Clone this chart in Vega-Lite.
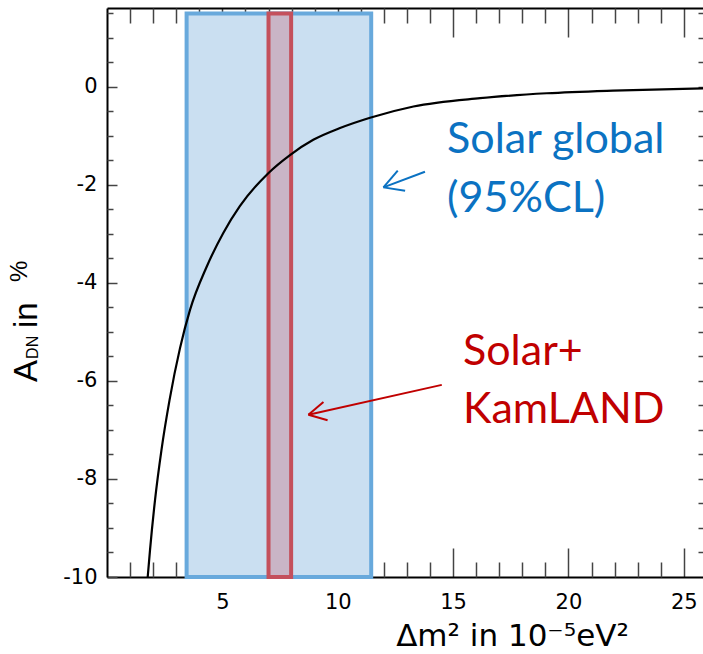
{
  "$schema": "https://vega.github.io/schema/vega-lite/v6.json",
  "width": 596,
  "height": 569,
  "autosize": {"type": "none"},
  "padding": {"left": 107, "top": 8, "right": 0, "bottom": 77},
  "background": "white",
  "config": {
    "view": {"stroke": null},
    "axis": {
      "grid": false,
      "labelFont": "DejaVu Sans",
      "labelFontSize": 21,
      "labelColor": "black",
      "tickColor": "#444444",
      "tickWidth": 1.5,
      "domainColor": "black",
      "domainWidth": 2,
      "zindex": 1,
      "labelOverlap": false,
      "labelFlush": false,
      "labelBound": false
    }
  },
  "datasets": {
    "boxes": [
      {"name": "Solar global", "lo": 3.45, "hi": 11.45, "bottom": -10, "top": 1.5},
      {"name": "Solar+KamLAND", "lo": 7.0, "hi": 7.98, "bottom": -10, "top": 1.5}
    ],
    "curve": [
      {"dm2": 1.764, "adn": -10.0},
      {"dm2": 1.864, "adn": -9.45},
      {"dm2": 2.081, "adn": -8.43},
      {"dm2": 2.36, "adn": -7.41},
      {"dm2": 2.71, "adn": -6.39},
      {"dm2": 3.164, "adn": -5.33},
      {"dm2": 3.598, "adn": -4.55},
      {"dm2": 4.32, "adn": -3.67},
      {"dm2": 5.04, "adn": -2.98},
      {"dm2": 5.765, "adn": -2.43},
      {"dm2": 6.99, "adn": -1.76},
      {"dm2": 7.93, "adn": -1.39},
      {"dm2": 8.94, "adn": -1.08},
      {"dm2": 10.1, "adn": -0.84},
      {"dm2": 11.4, "adn": -0.63},
      {"dm2": 13.28, "adn": -0.40},
      {"dm2": 16.17, "adn": -0.23},
      {"dm2": 19.06, "adn": -0.13},
      {"dm2": 21.93, "adn": -0.075},
      {"dm2": 25.83, "adn": -0.03}
    ],
    "arrows": [
      {"group": "solar", "xa": 13.78, "ya": -1.73, "xb": 11.98, "yb": -2.05},
      {"group": "solar", "xa": 11.98, "ya": -2.05, "xb": 12.6, "yb": -1.71},
      {"group": "solar", "xa": 11.98, "ya": -2.05, "xb": 12.92, "yb": -2.12},
      {"group": "kamland", "xa": 14.51, "ya": -6.08, "xb": 8.73, "yb": -6.69},
      {"group": "kamland", "xa": 8.73, "ya": -6.69, "xb": 9.38, "yb": -6.43},
      {"group": "kamland", "xa": 8.73, "ya": -6.69, "xb": 9.56, "yb": -6.80}
    ],
    "notes": [
      {"label": "Solar global", "group": "solar", "x": 14.74, "y": -1.35},
      {"label": "(95%CL)", "group": "solar", "x": 14.74, "y": -2.55},
      {"label": "Solar+", "group": "kamland", "x": 15.43, "y": -5.67},
      {"label": "KamLAND", "group": "kamland", "x": 15.43, "y": -6.86}
    ],
    "ytitle_big": [
      {"t": "A", "x": -3.03, "y": -6.02},
      {"t": "in", "x": -3.03, "y": -4.92}
    ],
    "ytitle_dn": [
      {"t": "DN", "x": -2.98, "y": -5.55}
    ],
    "ytitle_pct": [
      {"t": "%", "x": -3.47, "y": -3.98}
    ]
  },
  "resolve": {"axis": {"x": "independent", "y": "independent"}},
  "layer": [
    {
      "data": {"name": "boxes"},
      "transform": [{"filter": "datum.name === 'Solar global'"}],
      "mark": {"type": "rect", "fill": "#cadff1", "stroke": "#68a9dc", "strokeWidth": 4},
      "encoding": {
        "x": {"field": "lo", "type": "quantitative",
          "scale": {"domain": [0, 25.83], "nice": false, "zero": false},
          "axis": {"orient": "bottom", "values": [5, 10, 15, 20, 25], "tickSize": -29, "labelPadding": 43,
            "labelFont": "DejaVu Sans", "labelFontSize": 21,
            "labelExpr": "datum.value + ''",
            "title": "Δm² in 10⁻⁵eV²", "titleFont": "DejaVu Sans", "titleFontSize": 31, "titleFontWeight": "normal",
            "titleColor": "black", "titleX": 405, "titleY": 68, "titleAlign": "center", "titleBaseline": "alphabetic"}},
        "x2": {"field": "hi"},
        "y": {"field": "bottom", "type": "quantitative",
          "scale": {"domain": [-10, 1.61], "nice": false, "zero": false},
          "axis": {"orient": "left", "values": [-10, -8, -6, -4, -2, 0], "tickSize": -10, "labelPadding": 20,
            "labelFont": "DejaVu Sans", "labelFontSize": 21,
            "labelExpr": "datum.value + ''", "title": null}},
        "y2": {"field": "top"}
      }
    },
    {
      "data": {"name": "boxes"},
      "transform": [{"filter": "datum.name === 'Solar+KamLAND'"}],
      "mark": {"type": "rect", "fill": "#c9b5c6", "stroke": "#c4505c", "strokeWidth": 4},
      "encoding": {
        "x": {"field": "lo", "type": "quantitative",
          "scale": {"domain": [0, 25.83], "nice": false, "zero": false},
          "axis": {"orient": "bottom", "values": [1, 2, 3, 4, 6, 7, 8, 9, 11, 12, 13, 14, 16, 17, 18, 19, 21, 22, 23, 24],
            "tickSize": -15, "labels": false, "domain": false, "title": null}},
        "x2": {"field": "hi"},
        "y": {"field": "bottom", "type": "quantitative",
          "scale": {"domain": [-10, 1.61], "nice": false, "zero": false},
          "axis": {"orient": "left", "values": [-9.5, -9, -8.5, -7.5, -7, -6.5, -5.5, -5, -4.5, -3.5, -3, -2.5, -1.5, -1, -0.5, 0.5, 1, 1.5],
            "tickSize": -6, "labels": false, "domain": false, "title": null}},
        "y2": {"field": "top"}
      }
    },
    {
      "mark": {"type": "rule", "color": "black", "strokeWidth": 2, "strokeDash": [4, 4]},
      "encoding": {
        "y": {"datum": 0, "type": "quantitative",
          "scale": {"domain": [-10, 1.61], "nice": false, "zero": false}, "axis": null}
      }
    },
    {
      "data": {"name": "curve"},
      "mark": {"type": "line", "color": "black", "strokeWidth": 2.2, "interpolate": "monotone"},
      "encoding": {
        "x": {"field": "dm2", "type": "quantitative",
          "scale": {"domain": [0, 25.83], "nice": false, "zero": false},
          "axis": {"orient": "top", "values": [5, 10, 15, 20, 25], "tickSize": -29, "labels": false, "title": null}},
        "y": {"field": "adn", "type": "quantitative",
          "scale": {"domain": [-10, 1.61], "nice": false, "zero": false},
          "axis": {"orient": "right", "values": [-9.5, -9, -8.5, -8, -7.5, -7, -6.5, -6, -5.5, -5, -4.5, -4, -3.5, -3, -2.5, -2, -1.5, -1, -0.5, 0, 0.5, 1, 1.5],
            "tickSize": -5, "labels": false, "domain": false, "title": null}}
      }
    },
    {
      "data": {"name": "arrows"},
      "mark": {"type": "rule", "strokeWidth": 2},
      "encoding": {
        "x": {"field": "xa", "type": "quantitative",
          "scale": {"domain": [0, 25.83], "nice": false, "zero": false},
          "axis": {"orient": "top", "values": [1, 2, 3, 4, 6, 7, 8, 9, 11, 12, 13, 14, 16, 17, 18, 19, 21, 22, 23, 24],
            "tickSize": -15, "labels": false, "domain": false, "title": null}},
        "x2": {"field": "xb"},
        "y": {"field": "ya", "type": "quantitative",
          "scale": {"domain": [-10, 1.61], "nice": false, "zero": false}, "axis": null},
        "y2": {"field": "yb"},
        "color": {"field": "group", "type": "nominal",
          "scale": {"domain": ["solar", "kamland"], "range": ["#0b72c2", "#c00000"]}, "legend": null}
      }
    },
    {
      "data": {"name": "notes"},
      "mark": {"type": "text", "font": "Lato", "fontSize": 43, "align": "left", "baseline": "alphabetic"},
      "encoding": {
        "x": {"field": "x", "type": "quantitative",
          "scale": {"domain": [0, 25.83], "nice": false, "zero": false}, "axis": null},
        "y": {"field": "y", "type": "quantitative",
          "scale": {"domain": [-10, 1.61], "nice": false, "zero": false}, "axis": null},
        "text": {"field": "label"},
        "color": {"field": "group", "type": "nominal",
          "scale": {"domain": ["solar", "kamland"], "range": ["#0b72c2", "#c00000"]}, "legend": null}
      }
    },
    {
      "data": {"name": "ytitle_big"},
      "mark": {"type": "text", "font": "Liberation Sans", "fontSize": 33, "angle": 270, "align": "left", "baseline": "alphabetic", "color": "black"},
      "encoding": {
        "x": {"field": "x", "type": "quantitative",
          "scale": {"domain": [0, 25.83], "nice": false, "zero": false}, "axis": null},
        "y": {"field": "y", "type": "quantitative",
          "scale": {"domain": [-10, 1.61], "nice": false, "zero": false}, "axis": null},
        "text": {"field": "t"}
      }
    },
    {
      "data": {"name": "ytitle_dn"},
      "mark": {"type": "text", "font": "Liberation Sans", "fontSize": 16, "angle": 270, "align": "left", "baseline": "alphabetic", "color": "black"},
      "encoding": {
        "x": {"field": "x", "type": "quantitative",
          "scale": {"domain": [0, 25.83], "nice": false, "zero": false}, "axis": null},
        "y": {"field": "y", "type": "quantitative",
          "scale": {"domain": [-10, 1.61], "nice": false, "zero": false}, "axis": null},
        "text": {"field": "t"}
      }
    },
    {
      "data": {"name": "ytitle_pct"},
      "mark": {"type": "text", "font": "Liberation Sans", "fontSize": 24, "angle": 270, "align": "left", "baseline": "alphabetic", "color": "black"},
      "encoding": {
        "x": {"field": "x", "type": "quantitative",
          "scale": {"domain": [0, 25.83], "nice": false, "zero": false}, "axis": null},
        "y": {"field": "y", "type": "quantitative",
          "scale": {"domain": [-10, 1.61], "nice": false, "zero": false}, "axis": null},
        "text": {"field": "t"}
      }
    }
  ]
}
